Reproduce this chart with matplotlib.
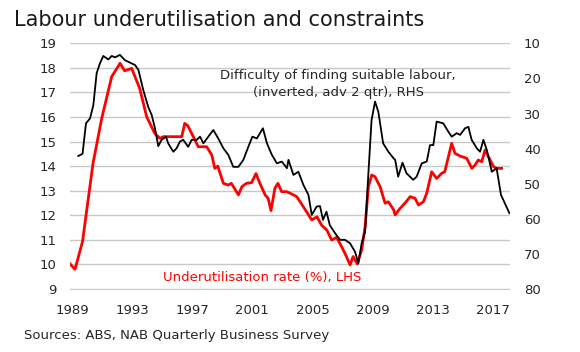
import matplotlib
matplotlib.use('Agg')
import matplotlib.pyplot as plt

# Underutilisation rate (%), LHS
under_year = [1988.87, 1989.2, 1989.7, 1990.4, 1990.98, 1991.64, 1992.2, 1992.5, 1992.97,
              1993.5, 1993.97, 1994.5, 1994.85, 1995.07, 1996.3, 1996.5, 1996.7, 1997.07,
              1997.4, 1997.96, 1998.3, 1998.5, 1998.7, 1999.07, 1999.4, 1999.6, 2000.07,
              2000.3, 2000.6, 2000.95, 2001.24, 2001.5, 2001.85, 2002.05, 2002.24, 2002.5,
              2002.7, 2002.95, 2003.28, 2003.5, 2003.95, 2004.39, 2004.95, 2005.3, 2005.6,
              2005.95, 2006.28, 2006.6, 2006.94, 2007.16, 2007.5, 2007.7, 2007.98, 2008.27,
              2008.5, 2008.72, 2008.94, 2009.16, 2009.5, 2009.83, 2010.05, 2010.4, 2010.5,
              2010.83, 2011.15, 2011.5, 2011.82, 2012.05, 2012.38, 2012.6, 2012.93, 2013.26,
              2013.6, 2013.8, 2014.26, 2014.48, 2014.82, 2015.26, 2015.6, 2015.82, 2016.03,
              2016.26, 2016.48, 2016.82, 2017.04, 2017.25, 2017.58]
under_rate = [10.02, 9.8, 10.93, 14.12, 15.95, 17.64, 18.19, 17.88, 17.98,
              17.17, 16.01, 15.34, 15.13, 15.2, 15.2, 15.74, 15.65, 15.2,
              14.79, 14.79, 14.45, 13.91, 14.0, 13.3, 13.23, 13.3, 12.83,
              13.16, 13.3, 13.33, 13.7, 13.3, 12.83, 12.69, 12.19, 13.1,
              13.3, 12.96, 12.96, 12.9, 12.76, 12.35, 11.81, 11.94, 11.6,
              11.4, 10.99, 11.1, 10.72, 10.45, 9.98, 10.32, 10.02, 10.59,
              11.54, 13.16, 13.64, 13.57, 13.16, 12.49, 12.55, 12.22, 12.02,
              12.28, 12.49, 12.76, 12.69, 12.42, 12.55, 12.9, 13.77, 13.5,
              13.71, 13.77, 14.93, 14.52, 14.41, 14.32, 13.91, 14.05, 14.25,
              14.18, 14.66, 14.25, 13.98, 13.91, 13.91]

# Difficulty of finding suitable labour (inverted, adv 2 qtr), RHS
labour_year = [1989.42, 1989.7, 1989.93, 1990.2, 1990.42, 1990.64, 1990.86, 1991.08, 1991.42,
               1991.64, 1991.86, 1992.19, 1992.52, 1992.86, 1993.2, 1993.42, 1993.74, 1994.07,
               1994.3, 1994.52, 1994.74, 1994.96, 1995.25, 1995.4, 1995.74, 1995.96, 1996.18,
               1996.4, 1996.73, 1996.96, 1997.3, 1997.52, 1997.74, 1998.07, 1998.4, 1998.73,
               1999.07, 1999.4, 1999.73, 2000.07, 2000.4, 2000.73, 2001.0, 2001.3, 2001.7,
               2001.97, 2002.3, 2002.63, 2002.96, 2003.3, 2003.4, 2003.73, 2004.06, 2004.4,
               2004.73, 2004.95, 2005.28, 2005.5, 2005.7, 2005.93, 2006.15, 2006.5, 2006.83,
               2007.16, 2007.5, 2007.83, 2008.05, 2008.27, 2008.5, 2008.72, 2008.93, 2009.16,
               2009.38, 2009.7, 2010.05, 2010.4, 2010.5, 2010.7, 2010.99, 2011.25, 2011.7,
               2011.93, 2012.27, 2012.6, 2012.82, 2013.04, 2013.26, 2013.7, 2014.04, 2014.26,
               2014.6, 2014.82, 2015.15, 2015.37, 2015.59, 2015.93, 2016.15, 2016.37, 2016.6,
               2016.93, 2017.25, 2017.54, 2017.8, 2018.1]
labour_diff = [42.1, 41.5, 32.8, 31.4, 27.6, 18.5, 15.7, 13.6, 14.6,
               13.6, 14.0, 13.3, 14.8, 15.5, 16.2, 17.6, 23.3, 28.1,
               30.4, 34.2, 39.3, 37.5, 36.6, 38.5, 40.9, 39.9, 38.0,
               37.5, 39.5, 37.5, 37.5, 36.6, 38.5, 36.6, 34.7, 37.1,
               39.9, 41.8, 45.2, 45.2, 43.2, 39.5, 36.6, 37.1, 34.2,
               38.5, 41.8, 44.2, 43.7, 45.6, 43.2, 47.5, 46.6, 50.4,
               53.2, 58.9, 56.5, 56.4, 60.3, 58.0, 61.8, 64.1, 66.0,
               66.0, 67.0, 69.4, 72.7, 67.0, 63.7, 47.0, 31.9, 26.6,
               29.5, 38.5, 40.9, 42.8, 43.2, 48.0, 44.0, 47.0, 48.9,
               48.0, 44.2, 43.7, 39.0, 39.0, 32.3, 32.8, 35.2, 36.6,
               35.6, 36.1, 34.2, 33.8, 37.5, 39.9, 40.9, 37.5, 40.4,
               46.6, 45.6, 53.2, 55.6, 58.4]

year_ticks = [1989, 1993, 1997, 2001, 2005, 2009, 2013, 2017]
left_ticks = list(range(9, 20))
right_ticks = list(range(10, 90, 10))

txt = '#262626'
red = '#ff0000'
fs = 9.5

fig = plt.figure(figsize=(5.8, 3.52), dpi=100)
ax = fig.add_axes([0.1207, 0.177, 0.7586, 0.702])
ax2 = ax.twinx()

# a hair of room so the 9 and 19 gridlines are not clipped
ax.set_xlim(1988.867, 2018.14)
ax.set_ylim(8.97, 19.03)
ax2.set_ylim(80.21, 9.79)

ax.set_yticks(left_ticks)
ax2.set_yticks(right_ticks)
ax.set_xticks(year_ticks)
ax.set_xticklabels([str(y) for y in year_ticks])

# horizontal gridlines, one per left tick
for v in left_ticks:
    ax.axhline(v, color='#c8c8c8', linewidth=1.0, zorder=1)
for a in (ax, ax2):
    for s in a.spines.values():
        s.set_visible(False)
ax.tick_params(axis='both', length=0, labelsize=fs, colors=txt)
ax.tick_params(axis='y', pad=10)
ax.tick_params(axis='x', pad=10)
ax2.tick_params(axis='y', length=0, labelsize=fs, colors=txt, pad=10)

ax.plot(under_year, under_rate, color=red, linewidth=2.0, zorder=3)
ax2.plot(labour_year, labour_diff, color='black', linewidth=1.3, zorder=4)

fig.text(338 / 580, 1 - 75 / 352, 'Difficulty of finding suitable labour,',
         ha='center', va='center', fontsize=fs, color=txt)
fig.text(338 / 580, 1 - 92.7 / 352, '(inverted, adv 2 qtr), RHS',
         ha='center', va='center', fontsize=fs, color=txt)
fig.text(262 / 580, 1 - 278 / 352, 'Underutilisation rate (%), LHS',
         ha='center', va='center', fontsize=fs, color=red)

fig.text(14 / 580, 1 - 20 / 352, 'Labour underutilisation and constraints',
         ha='left', va='center', fontsize=15, color='#1a1a1a')
fig.text(24 / 580, 1 - 335.5 / 352, 'Sources: ABS, NAB Quarterly Business Survey',
         ha='left', va='center', fontsize=fs, color=txt)

fig.savefig('out.png', dpi=100)
